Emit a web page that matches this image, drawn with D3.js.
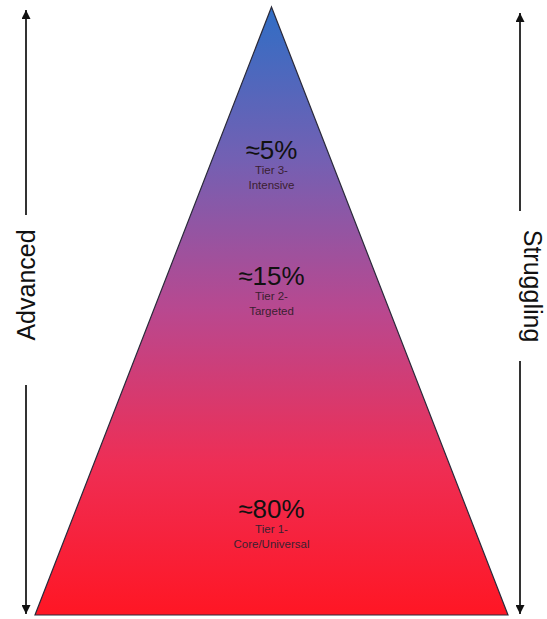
<!DOCTYPE html>
<html lang="en">
<head>
<meta charset="utf-8">
<title>RTI pyramid</title>
<script src="https://cdn.jsdelivr.net/npm/d3@7"></script>
<style>
  body { margin: 0; background: #fff; }
  text { font-family: Arial, "Liberation Sans", sans-serif; }
</style>
</head>
<body>
<script>
// tiers, top to bottom
var percents = ["\u22485%", "\u224815%", "\u224880%"];
var tierNames = ["Tier 3-", "Tier 2-", "Tier 1-"];
var tierKinds = ["Intensive", "Targeted", "Core/Universal"];
var sideLabels = ["Advanced", "Struggling"];
var gradColors = ["#306ec5", "#7360b3", "#b9488f", "#ee2e55", "#ff1624"];
var labelDepth = [0.25, 0.458, 0.84]; // fraction of pyramid height

var w = 547, h = 619;
var svg = d3.select("body").append("svg")
  .attr("width", w).attr("height", h);

// pyramid geometry through scales
var y = d3.scaleLinear().domain([0, 1]).range([7, 615]);
var halfW = d3.scaleLinear().domain([0, 1]).range([0, 236.5]);
var cx = 271.5;

var defs = svg.append("defs");
var grad = defs.append("linearGradient")
  .attr("id", "pyr").attr("x1", 0).attr("y1", 0).attr("x2", 0).attr("y2", 1);
grad.selectAll("stop").data(gradColors).enter().append("stop")
  .attr("offset", function(d, i) { return i / (gradColors.length - 1); })
  .attr("stop-color", function(d) { return d; });

defs.append("marker")
  .attr("id", "head").attr("viewBox", "0 0 10 10")
  .attr("refX", 10).attr("refY", 5)
  .attr("markerWidth", 11).attr("markerHeight", 9)
  .attr("markerUnits", "userSpaceOnUse")
  .attr("orient", "auto")
  .append("path").attr("d", "M0,0 L10,5 L0,10 Z").attr("fill", "#111");

var pts = [[cx, y(0)], [cx + halfW(1), y(1)], [cx - halfW(1), y(1)]];
svg.append("path")
  .attr("d", d3.line()(pts) + "Z")
  .attr("fill", "url(#pyr)")
  .attr("stroke", "#2a2a3a")
  .attr("stroke-width", 1.2);

// labels
var g = svg.selectAll(".tier").data(percents).enter().append("g")
  .attr("class", "tier")
  .attr("transform", function(d, i) { return "translate(" + cx + "," + y(labelDepth[i]) + ")"; });
g.append("text").attr("text-anchor", "middle").attr("y", 0)
  .attr("font-size", 26).attr("fill", "#111")
  .text(function(d) { return d; });
g.append("text").attr("text-anchor", "middle").attr("y", 15)
  .attr("font-size", 11.5).attr("fill", "#3a2030")
  .text(function(d, i) { return tierNames[i]; });
g.append("text").attr("text-anchor", "middle").attr("y", 30)
  .attr("font-size", 11.5).attr("fill", "#3a2030")
  .text(function(d, i) { return tierKinds[i]; });

// side arrows
var arrows = [
  { x: 26, tx: 35, top: 10, gapA: 215, gapB: 385, mid: 285, rot: -90, label: sideLabels[0] },
  { x: 520, tx: 524, top: 13, gapA: 211, gapB: 361, mid: 286, rot: 90, label: sideLabels[1] }
];
arrows.forEach(function(a) {
  svg.append("line").attr("x1", a.x).attr("x2", a.x)
    .attr("y1", a.gapA).attr("y2", a.top)
    .attr("stroke", "#333").attr("stroke-width", 2)
    .attr("marker-end", "url(#head)");
  svg.append("line").attr("x1", a.x).attr("x2", a.x)
    .attr("y1", a.gapB).attr("y2", 614)
    .attr("stroke", "#333").attr("stroke-width", 2)
    .attr("marker-end", "url(#head)");
  svg.append("text")
    .attr("transform", "translate(" + a.tx + "," + a.mid + ") rotate(" + a.rot + ")")
    .attr("text-anchor", "middle")
    .attr("font-size", 25).attr("fill", "#111")
    .text(a.label);
});
</script>
</body>
</html>
